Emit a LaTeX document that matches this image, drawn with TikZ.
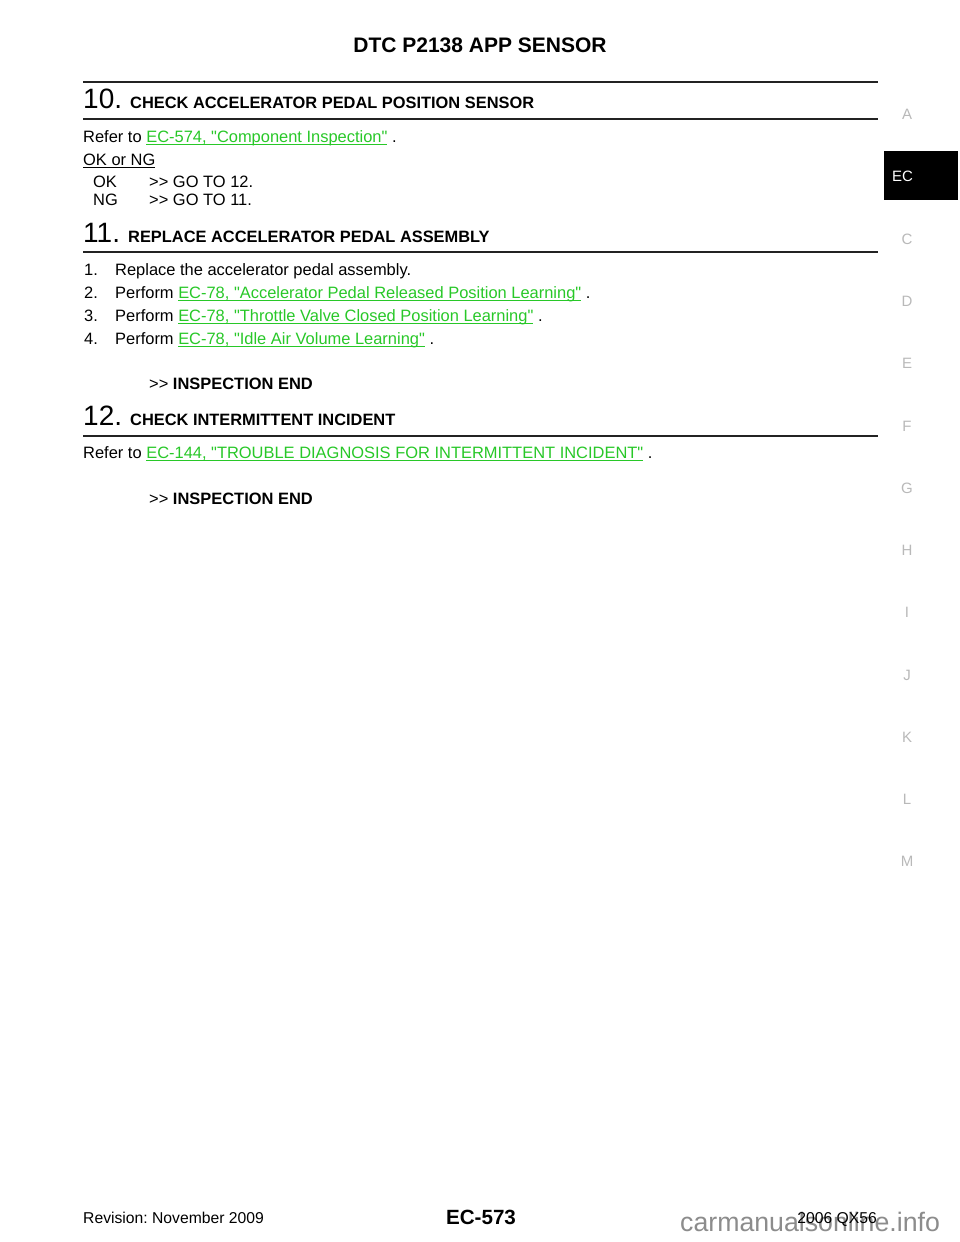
\documentclass[tikz,border=0pt]{standalone}
\usepackage{fontspec}
\setmainfont{Liberation Sans}[Ligatures=TeXOff]
\definecolor{lgreen}{RGB}{40,200,40}
\definecolor{sidegray}{RGB}{185,185,185}
\definecolor{rulegray}{RGB}{35,35,35}
\definecolor{wmgray}{RGB}{140,140,140}
\newcommand\lnk[1]{{\color{lgreen}\setbox0\hbox{#1}\rlap{\rule[-3pt]{\wd0}{1.1pt}}\box0}}
\newcommand\ulblack[1]{{\setbox0\hbox{#1}\rlap{\rule[-3pt]{\wd0}{1pt}}\box0}}
\frenchspacing
\begin{document}
\begin{tikzpicture}[x=1pt,y=-1pt,
  txt/.style={anchor=base west, inner sep=0pt, font=\fontsize{16.45}{19}\selectfont},
  head/.style={anchor=base west, inner sep=0pt, font=\fontsize{16.4}{19}\selectfont\bfseries},
  num/.style={anchor=base west, inner sep=0pt, font=\fontsize{28}{32}\selectfont},
  side/.style={anchor=base, inner sep=0pt, text=sidegray, font=\fontsize{15}{17}\selectfont},
  foot/.style={inner sep=0pt, font=\fontsize{15.7}{18}\selectfont},
  thinrule/.style={draw=rulegray, line width=1.3pt},
  thickrule/.style={draw=rulegray, line width=2.6pt}]
\useasboundingbox (0,0) rectangle (960,1242);
\fill[white] (0,0) rectangle (960,1242);

% title
\node[anchor=base, inner sep=0pt, font=\fontsize{21}{24}\selectfont\bfseries] (title) at (480,52) {DTC P2138 APP SENSOR};
\draw[thickrule] (83,82) -- (878,82);

% step 10
\node[num] (n10) at (83,108) {10.};
\node[head] (h10) at (130,108) {CHECK ACCELERATOR PEDAL POSITION SENSOR};
\draw[thinrule] (83,119) -- (878,119);
\node[txt] (r10) at (83,142) {Refer to \lnk{EC-574, "Component Inspection"} .};
\node[txt] (okng) at (83,165) {\ulblack{OK or NG}};
\node[txt] (ok) at (93,187) {OK};
\node[txt] (okgo) at (149,187) {>> GO TO 12.};
\node[txt] (ng) at (93,205) {NG};
\node[txt] (nggo) at (149,205) {>> GO TO 11.};

% step 11
\node[num] (n11) at (83,242) {11.};
\node[head] (h11) at (128,242) {REPLACE ACCELERATOR PEDAL ASSEMBLY};
\draw[thinrule] (83,252) -- (878,252);
\node[txt] (l1n) at (84,275) {1.};
\node[txt] (l1) at (115,275) {Replace the accelerator pedal assembly.};
\node[txt] (l2n) at (84,298) {2.};
\node[txt] (l2) at (115,298) {Perform \lnk{EC-78, "Accelerator Pedal Released Position Learning"} .};
\node[txt] (l3n) at (84,321) {3.};
\node[txt] (l3) at (115,321) {Perform \lnk{EC-78, "Throttle Valve Closed Position Learning"} .};
\node[txt] (l4n) at (84,344) {4.};
\node[txt] (l4) at (115,344) {Perform \lnk{EC-78, "Idle Air Volume Learning"} .};
\node[txt] (end11) at (149,389) {>> \textbf{INSPECTION END}};

% step 12
\node[num] (n12) at (83,425) {12.};
\node[head] (h12) at (130,425) {CHECK INTERMITTENT INCIDENT};
\draw[thinrule] (83,436) -- (878,436);
\node[txt] (r12) at (83,458) {Refer to \lnk{EC-144, "TROUBLE DIAGNOSIS FOR INTERMITTENT INCIDENT"} .};
\node[txt] (end12) at (149,504) {>> \textbf{INSPECTION END}};

% side index
\fill[black] (884,151) rectangle (958,200);
\node[anchor=base west, inner sep=0pt, text=white, font=\fontsize{15}{17}\selectfont] (ec) at (892,181.5) {EC};
\node[side] (sA) at (907,119.5) {A};
\node[side] (sC) at (907,244.5) {C};
\node[side] (sD) at (907,306.5) {D};
\node[side] (sE) at (907,368.5) {E};
\node[side] (sF) at (907,431.5) {F};
\node[side] (sG) at (907,493.5) {G};
\node[side] (sH) at (907,555.5) {H};
\node[side] (sI) at (907,617.5) {I};
\node[side] (sJ) at (907,680.5) {J};
\node[side] (sK) at (907,742.5) {K};
\node[side] (sL) at (907,804.5) {L};
\node[side] (sM) at (907,866.5) {M};

% footer
\node[anchor=base west, inner sep=0pt, text=wmgray, font=\fontsize{26.7}{30}\selectfont] (wm) at (680,1231) {carmanualsonline.info};
\node[foot, anchor=base west] (rev) at (83,1223) {Revision: November 2009};
\node[anchor=base, inner sep=0pt, font=\fontsize{20.6}{24}\selectfont\bfseries] (page) at (481,1224) {EC-573};
\node[foot, anchor=base east] (model) at (877,1223) {2006 QX56};
\end{tikzpicture}
\end{document}
